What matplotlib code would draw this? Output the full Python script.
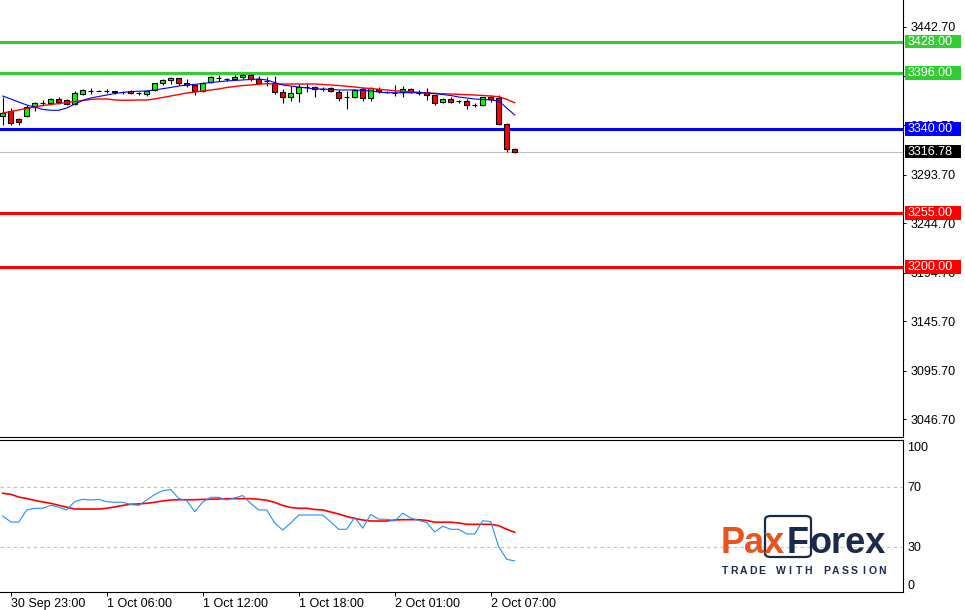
import matplotlib

matplotlib.use("Agg")
import matplotlib.pyplot as plt
import matplotlib.transforms as mtransforms
from matplotlib.patches import Rectangle, FancyBboxPatch
import numpy as np

plt.rcParams["font.family"] = ["Liberation Sans", "DejaVu Sans"]

# M30 candles, oldest first
opens = [3352.5, 3358.1, 3349.8, 3353.1, 3362.2, 3366.0, 3365.6, 3370.0, 3368.7, 3365.2,
         3374.7, 3378.1, 3378.4, 3378.0, 3377.4, 3377.4, 3377.7, 3375.7, 3374.7, 3379.1,
         3385.8, 3389.2, 3390.9, 3385.8, 3384.1, 3378.0, 3387.1, 3391.2, 3390.5, 3390.2,
         3391.9, 3393.9, 3390.2, 3388.4, 3385.8, 3376.7, 3371.7, 3376.0, 3382.4, 3381.8,
         3380.1, 3380.8, 3377.3, 3372.3, 3372.3, 3380.1, 3370.7, 3380.4, 3376.7, 3376.3,
         3376.7, 3380.1, 3376.3, 3376.7, 3373.7, 3367.2, 3370.3, 3367.6, 3367.9, 3364.2,
         3363.6, 3372.3, 3371.3, 3344.4, 3319.8]
highs = [3372.0, 3360.9, 3350.3, 3363.6, 3366.9, 3368.6, 3371.0, 3372.0, 3369.7, 3378.3,
         3380.4, 3381.1, 3379.5, 3380.1, 3377.7, 3378.0, 3378.7, 3377.0, 3379.1, 3386.4,
         3390.5, 3392.5, 3391.2, 3390.5, 3385.1, 3387.1, 3393.5, 3393.9, 3391.2, 3393.9,
         3395.2, 3395.2, 3393.2, 3392.2, 3393.5, 3380.1, 3383.4, 3385.1, 3385.8, 3383.4,
         3382.4, 3381.8, 3379.1, 3377.7, 3380.1, 3381.8, 3382.4, 3381.8, 3378.4, 3384.1,
         3383.1, 3380.8, 3379.1, 3380.8, 3374.3, 3371.0, 3371.7, 3369.0, 3369.7, 3366.2,
         3372.3, 3373.7, 3373.7, 3345.4, 3320.8]
lows = [3344.0, 3343.4, 3344.0, 3351.8, 3358.2, 3363.6, 3364.9, 3364.9, 3363.6, 3363.9,
        3374.0, 3375.3, 3377.6, 3376.0, 3375.0, 3375.0, 3374.7, 3374.0, 3373.0, 3378.4,
        3384.4, 3385.1, 3384.4, 3381.8, 3374.3, 3377.0, 3386.4, 3387.8, 3388.4, 3389.2,
        3390.5, 3387.8, 3385.1, 3383.1, 3375.0, 3365.6, 3368.3, 3367.2, 3376.7, 3372.3,
        3377.8, 3376.7, 3368.3, 3359.9, 3371.0, 3368.3, 3368.3, 3375.7, 3375.7, 3373.0,
        3372.3, 3375.7, 3374.3, 3369.0, 3364.2, 3366.2, 3366.2, 3366.2, 3360.2, 3362.2,
        3362.9, 3366.9, 3343.4, 3316.7, 3315.1]
closes = [3356.3, 3345.7, 3346.7, 3361.9, 3365.9, 3366.3, 3369.7, 3366.9, 3364.9, 3376.0,
          3379.1, 3378.0, 3378.4, 3378.1, 3377.4, 3377.3, 3375.7, 3375.7, 3377.7, 3386.1,
          3389.2, 3391.2, 3385.8, 3384.1, 3377.7, 3386.1, 3392.2, 3391.3, 3390.5, 3392.2,
          3394.2, 3389.9, 3385.8, 3388.1, 3376.6, 3371.7, 3375.7, 3382.4, 3382.3, 3379.8,
          3380.1, 3378.4, 3371.0, 3372.2, 3379.1, 3371.0, 3381.1, 3377.7, 3376.6, 3376.4,
          3379.8, 3376.7, 3376.3, 3373.7, 3366.2, 3370.3, 3367.2, 3367.5, 3364.2, 3364.2,
          3371.7, 3370.3, 3344.4, 3319.5, 3316.78]

ma_fast = [3373.0, 3370.0, 3366.9, 3363.9, 3361.9, 3359.4, 3358.6, 3358.6, 3360.9, 3364.9,
           3368.5, 3371.0, 3372.5, 3374.0, 3375.5, 3376.5, 3377.5, 3377.8, 3378.1, 3379.1,
           3380.4, 3381.6, 3383.1, 3384.1, 3384.8, 3385.6, 3386.6, 3387.4, 3388.2, 3388.7,
           3389.2, 3389.7, 3390.2, 3389.2, 3386.6, 3384.1, 3383.1, 3382.1, 3381.1, 3380.1,
           3380.1, 3379.6, 3379.1, 3379.1, 3379.1, 3378.6, 3378.1, 3377.0, 3376.3, 3376.3,
           3376.3, 3376.3, 3376.3, 3376.0, 3375.3, 3374.5, 3373.5, 3372.0, 3371.0, 3370.0,
           3369.5, 3369.0, 3368.0, 3360.9, 3353.8]
ma_slow = [3355.8, 3357.3, 3358.9, 3360.4, 3361.9, 3363.4, 3364.4, 3365.4, 3366.4, 3367.4,
           3368.5, 3369.5, 3370.0, 3370.0, 3369.0, 3368.7, 3368.7, 3369.0, 3369.0, 3370.0,
           3371.5, 3373.0, 3374.5, 3376.0, 3377.0, 3378.1, 3379.1, 3380.1, 3381.6, 3382.6,
           3383.6, 3384.1, 3384.8, 3385.6, 3385.1, 3385.1, 3385.1, 3385.1, 3385.1, 3385.1,
           3384.6, 3384.1, 3383.6, 3382.8, 3382.1, 3381.1, 3380.6, 3379.8, 3379.1, 3378.4,
           3377.7, 3377.2, 3376.7, 3376.2, 3375.7, 3375.3, 3375.0, 3374.7, 3374.3, 3374.0,
           3373.5, 3373.0, 3372.3, 3369.7, 3366.2]

rsi = [50.5, 46.5, 46.3, 54.5, 55.6, 55.6, 57.6, 56.3, 54.5, 60.1,
       61.6, 61.1, 61.5, 60.0, 59.6, 59.6, 58.1, 57.5, 61.1, 64.8,
       67.3, 68.1, 62.1, 60.8, 53.3, 59.8, 62.9, 62.9, 61.1, 62.5,
       64.1, 58.8, 54.5, 54.5, 45.8, 41.1, 45.8, 51.1, 51.1, 51.1,
       51.1, 46.5, 41.6, 41.6, 49.6, 42.3, 51.5, 48.3, 48.3, 47.1,
       52.3, 49.1, 47.5, 46.1, 39.8, 43.6, 41.6, 41.6, 38.5, 38.5,
       47.3, 46.7, 30.0, 21.6, 20.5]
rsi_signal = [65.6, 64.9, 63.1, 62.1, 60.8, 59.8, 58.9, 57.6, 56.3, 55.1,
              55.1, 55.1, 55.1, 55.6, 56.5, 57.5, 58.3, 58.5, 58.9, 59.6,
              60.5, 61.1, 61.3, 61.3, 61.3, 61.5, 61.6, 61.8, 62.0, 62.0,
              62.0, 62.0, 61.6, 60.9, 59.5, 57.5, 56.1, 55.6, 55.6, 54.8,
              54.5, 53.1, 51.8, 50.1, 48.8, 47.8, 47.1, 47.1, 47.1, 47.8,
              48.0, 48.0, 48.0, 47.5, 46.3, 46.3, 46.3, 45.8, 44.9, 44.9,
              44.9, 44.9, 44.0, 41.6, 39.6]

time_ticks = [1, 13, 25, 37, 49, 61]
time_labels = ["30 Sep 23:00", "1 Oct 06:00", "1 Oct 12:00",
               "1 Oct 18:00", "2 Oct 01:00", "2 Oct 07:00"]
price_ticks = [3442.70, 3393.70, 3343.70, 3293.70, 3244.70,
               3194.70, 3145.70, 3095.70, 3046.70]

resistance = [3428.00, 3396.00]
pivot = 3340.00
support = [3255.00, 3200.00]
last_price = 3316.78
rsi_levels = [70, 30]

GREEN = "#32CD32"
W, H = 965, 610

fig = plt.figure(figsize=(W / 100, H / 100), dpi=100)
ax = fig.add_axes([0, 1 - 437 / H, 903 / W, 437 / H])
ax_rsi = fig.add_axes([0, 1 - 592 / H, 903 / W, 152 / H])

x = np.arange(len(opens))
o = np.array(opens)
c = np.array(closes)

# candles
ax.vlines(x, lows, highs, color="black", lw=0.8, zorder=3)
body_col = np.where(c >= o, "#00FF00", "#FF0000")
ax.bar(x, np.maximum(np.abs(c - o), 0.15), bottom=np.minimum(o, c), width=0.62,
       color=body_col, edgecolor="black", linewidth=0.8, zorder=4)
ax.plot(x, ma_slow, color="#FF0000", lw=1.0, zorder=5)
ax.plot(x, ma_fast, color="#0000FF", lw=0.8, zorder=5)

# levels
ax.axhline(last_price, color="#C0C0C0", lw=0.8, zorder=1)
for lv in resistance:
    ax.axhline(lv, color=GREEN, lw=2.2, zorder=2)
ax.axhline(pivot, color="#0000FF", lw=2.2, zorder=2)
for lv in support:
    ax.axhline(lv, color="#FF0000", lw=2.2, zorder=2)

ax.set_xlim(-0.34, 112.54)
ax.set_ylim(3028.56, 3469.97)
ax.yaxis.tick_right()
ax.set_yticks(price_ticks)
ax.set_yticklabels([f"{p:.2f}" for p in price_ticks])
ax.tick_params(axis="y", length=2.2, width=0.7, pad=3.4, labelsize=9, colors="black")
ax.set_xticks([])
for s in ["left", "top"]:
    ax.spines[s].set_visible(False)
for s in ["right", "bottom"]:
    ax.spines[s].set_linewidth(0.8)

# price boxes on the axis
trans = mtransforms.blended_transform_factory(ax.transAxes, ax.transData)
boxes = [(resistance[0], GREEN), (resistance[1], GREEN), (pivot, "#0000FF"),
         (last_price, "black"), (support[0], "#FF0000"), (support[1], "#FF0000")]
for val, col in boxes:
    ax.add_patch(Rectangle((1.0022, val - 6.9), 0.062, 13.8, transform=trans,
                           facecolor=col, edgecolor="none", clip_on=False, zorder=6))
    ax.text(1.0055, val, f"{val:.2f}", transform=trans, color="white", fontsize=9,
            ha="left", va="center", clip_on=False, zorder=7)

# RSI panel
ax_rsi.plot(x, rsi_signal, color="#FF0000", lw=1.2, zorder=3)
ax_rsi.plot(x, rsi, color="#1E90FF", lw=0.8, zorder=4)
for lv in rsi_levels:
    ax_rsi.axhline(lv, color="#C0C0C0", lw=0.8, ls=(0, (3, 3)), zorder=1)
ax_rsi.set_xlim(-0.34, 112.54)
ax_rsi.set_ylim(-0.2, 101.1)
ax_rsi.yaxis.tick_right()
ax_rsi.set_yticks([100, 70, 30, 0])
ax_rsi.set_yticklabels(["100", "70", "30", "0"])
ax_rsi.tick_params(axis="y", length=0, pad=3, labelsize=9)
lbls = ax_rsi.get_yticklabels()
lbls[0].set_verticalalignment("top")
lbls[3].set_verticalalignment("bottom")
ax_rsi.set_xticks(time_ticks)
ax_rsi.set_xticklabels(time_labels, ha="left")
ax_rsi.tick_params(axis="x", length=3, width=0.7, pad=1.5, labelsize=9)
ax_rsi.spines["left"].set_visible(False)
for s in ["right", "bottom", "top"]:
    ax_rsi.spines[s].set_linewidth(0.8)

# logo
NAVY = "#1B2A4A"
ORANGE = "#E8541E"


def fx(px):
    return px / W


def fy(py):
    return 1 - py / H


fig.patches.append(FancyBboxPatch((fx(765), fy(557)), fx(46), 41 / H,
                                  boxstyle="round,pad=0,rounding_size=0.006",
                                  transform=fig.transFigure, fill=False,
                                  edgecolor=NAVY, lw=1.6, zorder=8))
fig.text(fx(721), fy(553), "Pax", color=ORANGE, fontsize=26, fontweight="bold",
         va="baseline", ha="left", zorder=9)
fig.text(fx(787), fy(553), "F", color=NAVY, fontsize=26, fontweight="bold",
         va="baseline", ha="left", zorder=9)
fig.text(fx(810), fy(553), "orex", color=NAVY, fontsize=26, fontweight="bold",
         va="baseline", ha="left", zorder=9)
tagline = "TRADE WITH PASSION"
for k, ch in enumerate(tagline):
    fig.text(fx(725 + k * 9.24), fy(571), ch, color=NAVY, fontsize=7.5,
             fontweight="bold", ha="center", va="center", zorder=9)

fig.savefig("out.png", dpi=100, facecolor="white")
